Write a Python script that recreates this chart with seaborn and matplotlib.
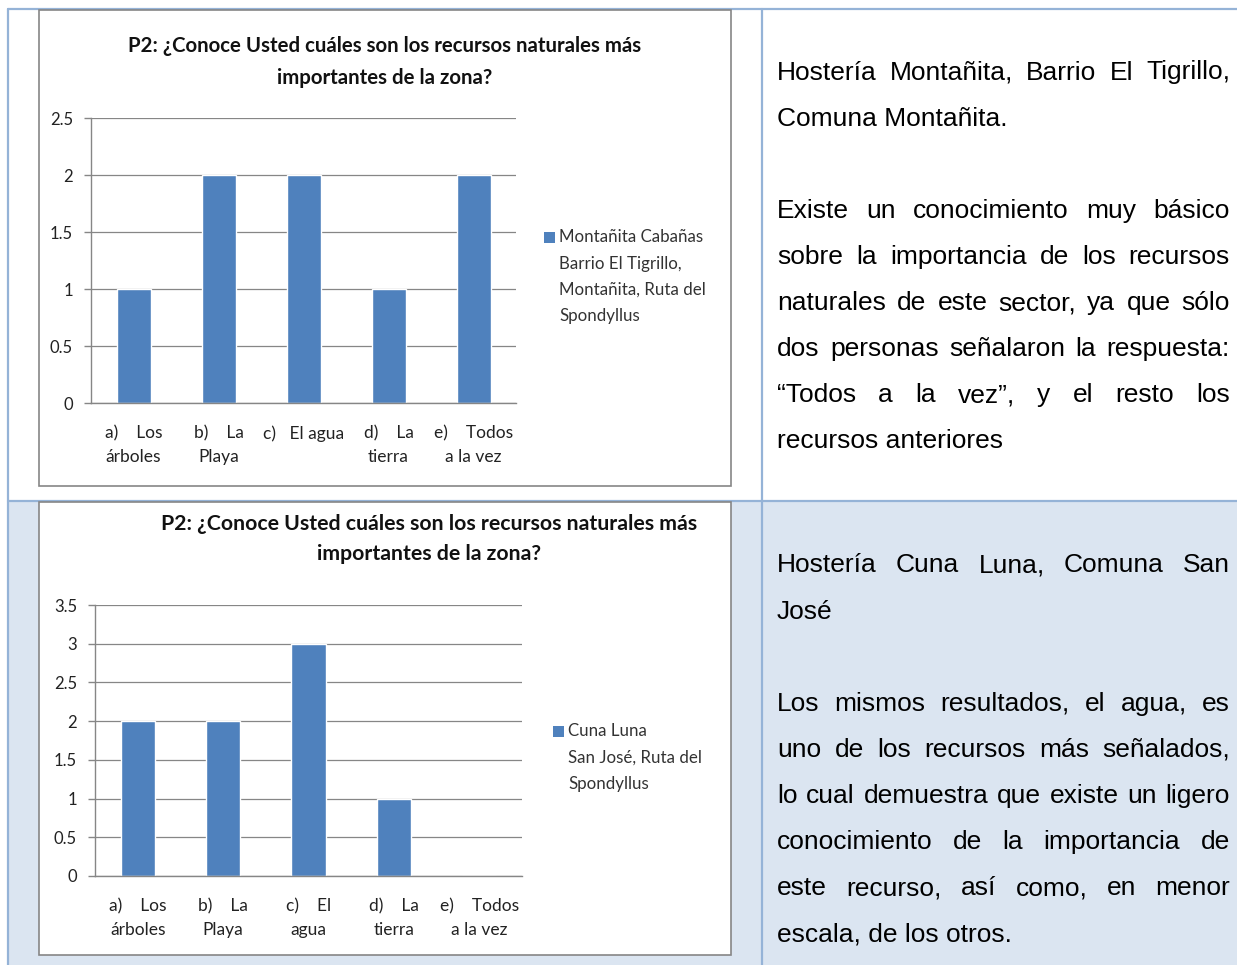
import numpy as np
import pandas as pd
import seaborn as sns
import matplotlib.pyplot as plt
from matplotlib.patches import Rectangle
from matplotlib.lines import Line2D

sns.set_theme(style='white')
plt.rcParams['font.family'] = ['Lato', 'DejaVu Sans']

# datos
categorias_1 = ['a)    Los\nárboles', 'b)    La\nPlaya', 'c)   El agua', 'd)    La\ntierra', 'e)    Todos\na la vez']
categorias_2 = ['a)    Los\nárboles', 'b)    La\nPlaya', 'c)    El\nagua', 'd)    La\ntierra', 'e)    Todos\na la vez']
valores_1 = [1, 2, 2, 1, 2]
valores_2 = [2, 2, 3, 1, 0]
yticks_1 = ['0', '0.5', '1', '1.5', '2', '2.5']
yticks_2 = ['0', '0.5', '1', '1.5', '2', '2.5', '3', '3.5']
titulo = ['P2: ¿Conoce Usted cuáles son los recursos naturales más', 'importantes de la zona?']
serie_1 = ['Montañita Cabañas', 'Barrio El Tigrillo,', 'Montañita, Ruta del', 'Spondyllus']
serie_2 = ['Cuna Luna', 'San José, Ruta del', 'Spondyllus']

texto_1 = ['Hostería Montañita, Barrio El Tigrillo,', 'Comuna Montañita.', '',
           'Existe un conocimiento muy básico', 'sobre la importancia de los recursos',
           'naturales de este sector, ya que sólo', 'dos personas señalaron la respuesta:',
           '“Todos a la vez”, y el resto los', 'recursos anteriores']
just_1 = [1, 0, 0, 1, 1, 1, 1, 1, 0]
texto_2 = ['Hostería Cuna Luna, Comuna San', 'José', '',
           'Los mismos resultados, el agua, es', 'uno de los recursos más señalados,',
           'lo cual demuestra que existe un ligero', 'conocimiento de la importancia de',
           'este recurso, así como, en menor', 'escala, de los otros.']
just_2 = [1, 0, 0, 1, 1, 1, 1, 1, 0]

AZUL = '#4f81bd'
BORDE = '#95b3d7'
FONDO = '#dbe5f1'
GRIS = '#868686'

W, H = 1237, 965
fig = plt.figure(figsize=(W / 100, H / 100), dpi=100)
fig.patch.set_facecolor('white')

def fx(x):
    return x / W

def fy(y):
    return 1 - y / H

# tabla
fig.patches.append(Rectangle((fx(8), 0), fx(W - 8), (H - 500.5) / H, transform=fig.transFigure,
                             facecolor=FONDO, edgecolor='none', zorder=-5))
for (x0, y0, x1, y1) in [(8, 9, W, 9), (8, 9, 8, H), (762, 9, 762, H), (8, 500.5, W, 500.5)]:
    fig.lines.append(Line2D([fx(x0), fx(x1)], [fy(y0), fy(y1)], transform=fig.transFigure,
                            color=BORDE, lw=1.6, zorder=-4))
for (x0, y0, x1, y1) in [(39, 10, 731, 486), (39, 502, 731, 955)]:
    fig.patches.append(Rectangle((fx(x0), fy(y1)), fx(x1 - x0), (y1 - y0) / H, transform=fig.transFigure,
                                 facecolor='white', edgecolor=GRIS, lw=1.2, zorder=-3))


def grafico(caja, cats, vals, ymax, ylabs, tit_x, tit_y, tit_paso, tit_size, serie, ley_x, ley_y):
    x0, y0, x1, y1 = caja
    ax = fig.add_axes([fx(x0), fy(y1), fx(x1 - x0), (y1 - y0) / H])
    ax.set_facecolor('none')
    df = pd.DataFrame({'cat': cats, 'val': vals})
    sns.barplot(data=df, x='cat', y='val', order=cats, color=AZUL, saturation=1, width=0.4, ax=ax)
    ax.set_xlim(-0.5, len(cats) - 0.5)
    ax.set_ylim(0, ymax)
    ax.set_yticks(np.arange(0, ymax + 0.01, 0.5))
    ax.set_yticklabels(ylabs, fontsize=12, color='#222222')
    ax.set_xticks(np.arange(len(cats)))
    ax.set_xticklabels(cats, fontsize=12.5, color='#222222', linespacing=1.6)
    ax.set_xticks(np.arange(-0.5, len(cats)), minor=True)
    ax.tick_params(axis='x', which='major', length=0, pad=16)
    ax.tick_params(axis='x', which='minor', length=7, color=GRIS, width=1)
    ax.tick_params(axis='y', length=5, color=GRIS, width=1, pad=8, left=True)
    ax.yaxis.grid(True, color=GRIS, lw=0.9)
    ax.set_axisbelow(True)
    for s in ['top', 'right']:
        ax.spines[s].set_visible(False)
    for s in ['left', 'bottom']:
        ax.spines[s].set_color(GRIS)
        ax.spines[s].set_linewidth(1)
    ax.set_xlabel('')
    ax.set_ylabel('')
    for i, t in enumerate(titulo):
        fig.text(fx(tit_x), fy(tit_y + i * tit_paso), t, ha='center', va='center',
                 fontsize=tit_size, fontweight='bold', color='#111111')
    # leyenda
    fig.patches.append(Rectangle((fx(ley_x), fy(ley_y + 6)), fx(11), 11 / H, transform=fig.transFigure,
                                 facecolor=AZUL, edgecolor='none'))
    for i, t in enumerate(serie):
        fig.text(fx(ley_x + 15), fy(ley_y + i * 26.5), t, ha='left', va='center',
                 fontsize=12.2, color='#333333')
    return ax


grafico((91, 118, 516, 403), categorias_1, valores_1, 2.5, yticks_1, 385, 45.5, 32, 14.7, serie_1, 544, 237)
grafico((95, 605, 522, 876), categorias_2, valores_2, 3.5, yticks_2, 429, 524.5, 30, 15.3, serie_2, 553, 731)

# texto justificado
ren = fig.canvas.get_renderer()

def justificar(lineas, flags, y0, paso, x0=777, x1=1230):
    for i, (linea, j) in enumerate(zip(lineas, flags)):
        if not linea:
            continue
        y = fy(y0 + i * paso)
        palabras = linea.split()
        if not j or len(palabras) < 2:
            fig.text(fx(x0), y, linea, ha='left', va='center', fontsize=19,
                     family=['Liberation Sans', 'DejaVu Sans'], color='black')
            continue
        objs = [fig.text(0, y, p, ha='left', va='center', fontsize=19,
                         family=['Liberation Sans', 'DejaVu Sans'], color='black') for p in palabras]
        anchos = [o.get_window_extent(ren).width for o in objs]
        hueco = (x1 - x0 - sum(anchos)) / (len(palabras) - 1)
        x = x0
        for o, w in zip(objs, anchos):
            o.set_x(fx(x))
            x += w + hueco


justificar(texto_1, just_1, 72.5, 46.1)
justificar(texto_2, just_2, 565.5, 46.1)

fig.savefig('out.png', dpi=100)
